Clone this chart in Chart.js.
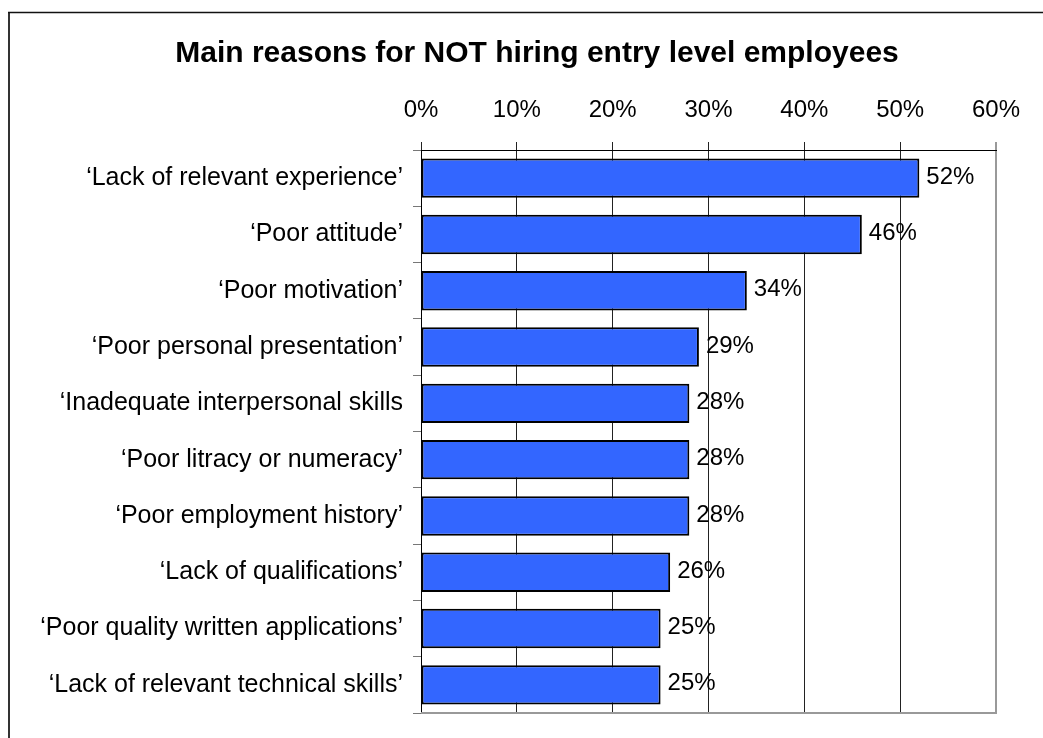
<!DOCTYPE html>
<html>
<head>
<meta charset="utf-8">
<script src="https://cdn.jsdelivr.net/npm/chart.js@4/dist/chart.umd.min.js"></script>
<style>
  html, body { margin: 0; padding: 0; background: #fff; }
  #wrap { width: 1043px; height: 738px; position: relative; }
</style>
</head>
<body>
<div id="wrap"><canvas id="c"></canvas></div>
<script>
const titleText = 'Main reasons for NOT hiring entry level employees';

const categories = [
  '\u2018Lack of relevant experience\u2019',
  '\u2018Poor attitude\u2019',
  '\u2018Poor motivation\u2019',
  '\u2018Poor personal presentation\u2019',
  '\u2018Inadequate interpersonal skills',
  '\u2018Poor litracy or numeracy\u2019',
  '\u2018Poor employment history\u2019',
  '\u2018Lack of qualifications\u2019',
  '\u2018Poor quality written applications\u2019',
  '\u2018Lack of relevant technical skills\u2019'
];

const values = [52, 46, 34, 29, 28, 28, 28, 26, 25, 25];

const tickLabels = ['0%', '10%', '20%', '30%', '40%', '50%', '60%'];

const FONT = '"Liberation Sans", Arial, sans-serif';

// Frame, title, plot border and value labels
const decorations = {
  id: 'decorations',
  afterDraw(chart) {
    const ctx = chart.ctx;
    const area = chart.chartArea;
    ctx.save();

    // outer frame (left and top edges)
    ctx.strokeStyle = '#333';
    ctx.lineWidth = 2;
    ctx.beginPath();
    ctx.moveTo(9, 738);
    ctx.lineTo(9, 12.5);
    ctx.stroke();
    ctx.strokeStyle = '#111';
    ctx.lineWidth = 1.5;
    ctx.beginPath();
    ctx.moveTo(8, 12.5);
    ctx.lineTo(1043, 12.5);
    ctx.stroke();

    // title
    ctx.fillStyle = '#000';
    ctx.font = 'bold 30px ' + FONT;
    ctx.textAlign = 'center';
    ctx.textBaseline = 'alphabetic';
    ctx.fillText(titleText, 537, 62);

    // bottom edge of the plot area
    ctx.strokeStyle = '#999';
    ctx.lineWidth = 2;
    ctx.beginPath();
    ctx.moveTo(area.left, area.bottom);
    ctx.lineTo(area.right + 1, area.bottom);
    ctx.stroke();

    // value labels at the bar ends
    const meta = chart.getDatasetMeta(0);
    ctx.font = '24px ' + FONT;
    ctx.textAlign = 'left';
    ctx.textBaseline = 'middle';
    ctx.fillStyle = '#000';
    meta.data.forEach((bar, i) => {
      ctx.fillText(values[i] + '%', bar.x + 7, bar.y - 1);
    });

    ctx.restore();
  }
};

new Chart(document.getElementById('c'), {
  type: 'bar',
  data: {
    labels: categories,
    datasets: [{
      data: values,
      backgroundColor: '#3366FF',
      borderColor: '#000',
      borderWidth: 2,
      borderSkipped: false,
      barPercentage: 0.7,
      categoryPercentage: 1.0
    }]
  },
  options: {
    indexAxis: 'y',
    responsive: true,
    maintainAspectRatio: false,
    animation: false,
    devicePixelRatio: 1,
    layout: { padding: { left: 0, top: 0, right: 47, bottom: 4 } },
    plugins: {
      legend: { display: false },
      tooltip: { enabled: false },
      title: { display: false }
    },
    scales: {
      x: {
        type: 'linear',
        position: 'top',
        min: 0,
        max: 60,
        afterFit(scale) { scale.height = 150; },
        ticks: {
          stepSize: 10,
          color: '#000',
          padding: 17,
          font: { family: FONT, size: 24 },
          callback: (v, i) => tickLabels[i]
        },
        grid: {
          color: (c) => (c.index === 6 ? '#999' : '#222'),
          lineWidth: (c) => (c.index === 6 ? 2 : 1),
          tickLength: 8,
          drawTicks: true
        },
        border: { display: true, color: '#000', width: 1 }
      },
      y: {
        type: 'category',
        afterFit(scale) { scale.width = 421; },
        ticks: {
          color: '#000',
          padding: 10,
          font: { family: FONT, size: 25 }
        },
        grid: {
          drawOnChartArea: false,
          offset: true,
          tickLength: 8,
          color: '#777'
        },
        border: { display: true, color: '#000', width: 1 }
      }
    }
  },
  plugins: [decorations]
});
</script>
</body>
</html>
